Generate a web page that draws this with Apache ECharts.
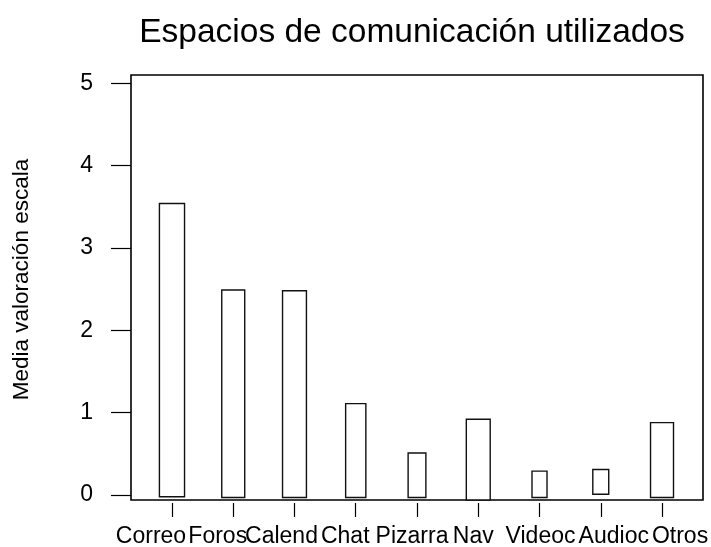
<!DOCTYPE html>
<html>
<head>
<meta charset="utf-8">
<script src="https://cdn.jsdelivr.net/npm/echarts@6/dist/echarts.min.js"></script>
<style>
  html, body { margin: 0; padding: 0; background: #fff; }
  #chart { width: 711px; height: 547px; }
</style>
</head>
<body>
<div id="chart"></div>
<script>
// Espacios de comunicación: límite inferior y superior de cada caja
var categories = ['Correo', 'Foros', 'Calend', 'Chat', 'Pizarra', 'Nav', 'Videoc', 'Audioc', 'Otros'];
var lowValues = [-0.02, -0.03, -0.03, -0.03, -0.03, -0.06, -0.03, 0.01, -0.03];
var highValues = [3.54, 2.49, 2.48, 1.11, 0.51, 0.92, 0.29, 0.31, 0.88];
var yTicks = [0, 1, 2, 3, 4, 5];
var xTicks = [0, 1, 2, 3, 4, 5, 6, 7, 8];

// estilo: ancho relativo de cada caja y desplazamiento de cada etiqueta
var widthFrac = [0.41, 0.375, 0.39, 0.33, 0.29, 0.39, 0.245, 0.26, 0.375];
var labelShift = [-21, -15.5, -13, -10.5, -5, -5, 1, 13, 18];

var font = 'Liberation Sans, Arial, sans-serif';

var rich = {};
labelShift.forEach(function (d, i) {
    rich['l' + i] = {
        fontFamily: font,
        fontSize: 23,
        color: '#000',
        padding: d < 0 ? [0, -2 * d, 0, 0] : [0, 0, 0, 2 * d]
    };
});

var chart = echarts.init(document.getElementById('chart'));

var option = {
    animation: false,
    backgroundColor: '#fff',
    title: {
        text: 'Espacios de comunicación utilizados',
        left: 407,
        top: 11,
        textAlign: 'center',
        textStyle: { fontFamily: font, fontSize: 33.5, fontWeight: 'normal', color: '#000' }
    },
    grid: {
        left: 131, right: 8, top: 75, bottom: 47,
        outerBoundsMode: 'none',
        containLabel: false,
        show: true, borderColor: '#000', borderWidth: 1.6, backgroundColor: 'transparent'
    },
    xAxis: {
        type: 'value',
        min: -0.669,
        max: 8.669,
        offset: 3,
        axisLine: { show: false, onZero: false },
        axisTick: { show: true, length: 14, customValues: xTicks, lineStyle: { color: '#000', width: 1.2 } },
        axisLabel: {
            customValues: xTicks,
            margin: 22,
            hideOverlap: false,
            formatter: function (v) {
                var i = Math.round(v);
                return '{l' + i + '|' + categories[i] + '}';
            },
            rich: rich
        },
        splitLine: { show: false }
    },
    yAxis: {
        type: 'value',
        min: -0.06,
        max: 5.1,
        name: 'Media valoración escala',
        nameLocation: 'middle',
        nameRotate: 90,
        nameGap: 97.5,
        nameTextStyle: { fontFamily: font, fontSize: 22.5, color: '#000', padding: [0, 0, 0, 16] },
        axisLine: { show: false, onZero: false },
        axisTick: { show: true, length: 20, customValues: yTicks, lineStyle: { color: '#000', width: 1.2 } },
        axisLabel: { customValues: yTicks, margin: 38, fontFamily: font, fontSize: 23, color: '#000' },
        splitLine: { show: false }
    },
    series: [{
        type: 'custom',
        renderItem: function (params, api) {
            var i = api.value(0);
            var lo = api.coord([i, api.value(1)]);
            var hi = api.coord([i, api.value(2)]);
            var w = api.size([1, 0])[0] * widthFrac[i];
            return {
                type: 'rect',
                shape: { x: lo[0] - w / 2, y: hi[1], width: w, height: lo[1] - hi[1] },
                style: { fill: '#fff', stroke: '#111', lineWidth: 1.4 }
            };
        },
        encode: { x: 0, y: [1, 2] },
        data: categories.map(function (c, i) { return [i, lowValues[i], highValues[i]]; })
    }]
};

chart.setOption(option);
</script>
</body>
</html>
